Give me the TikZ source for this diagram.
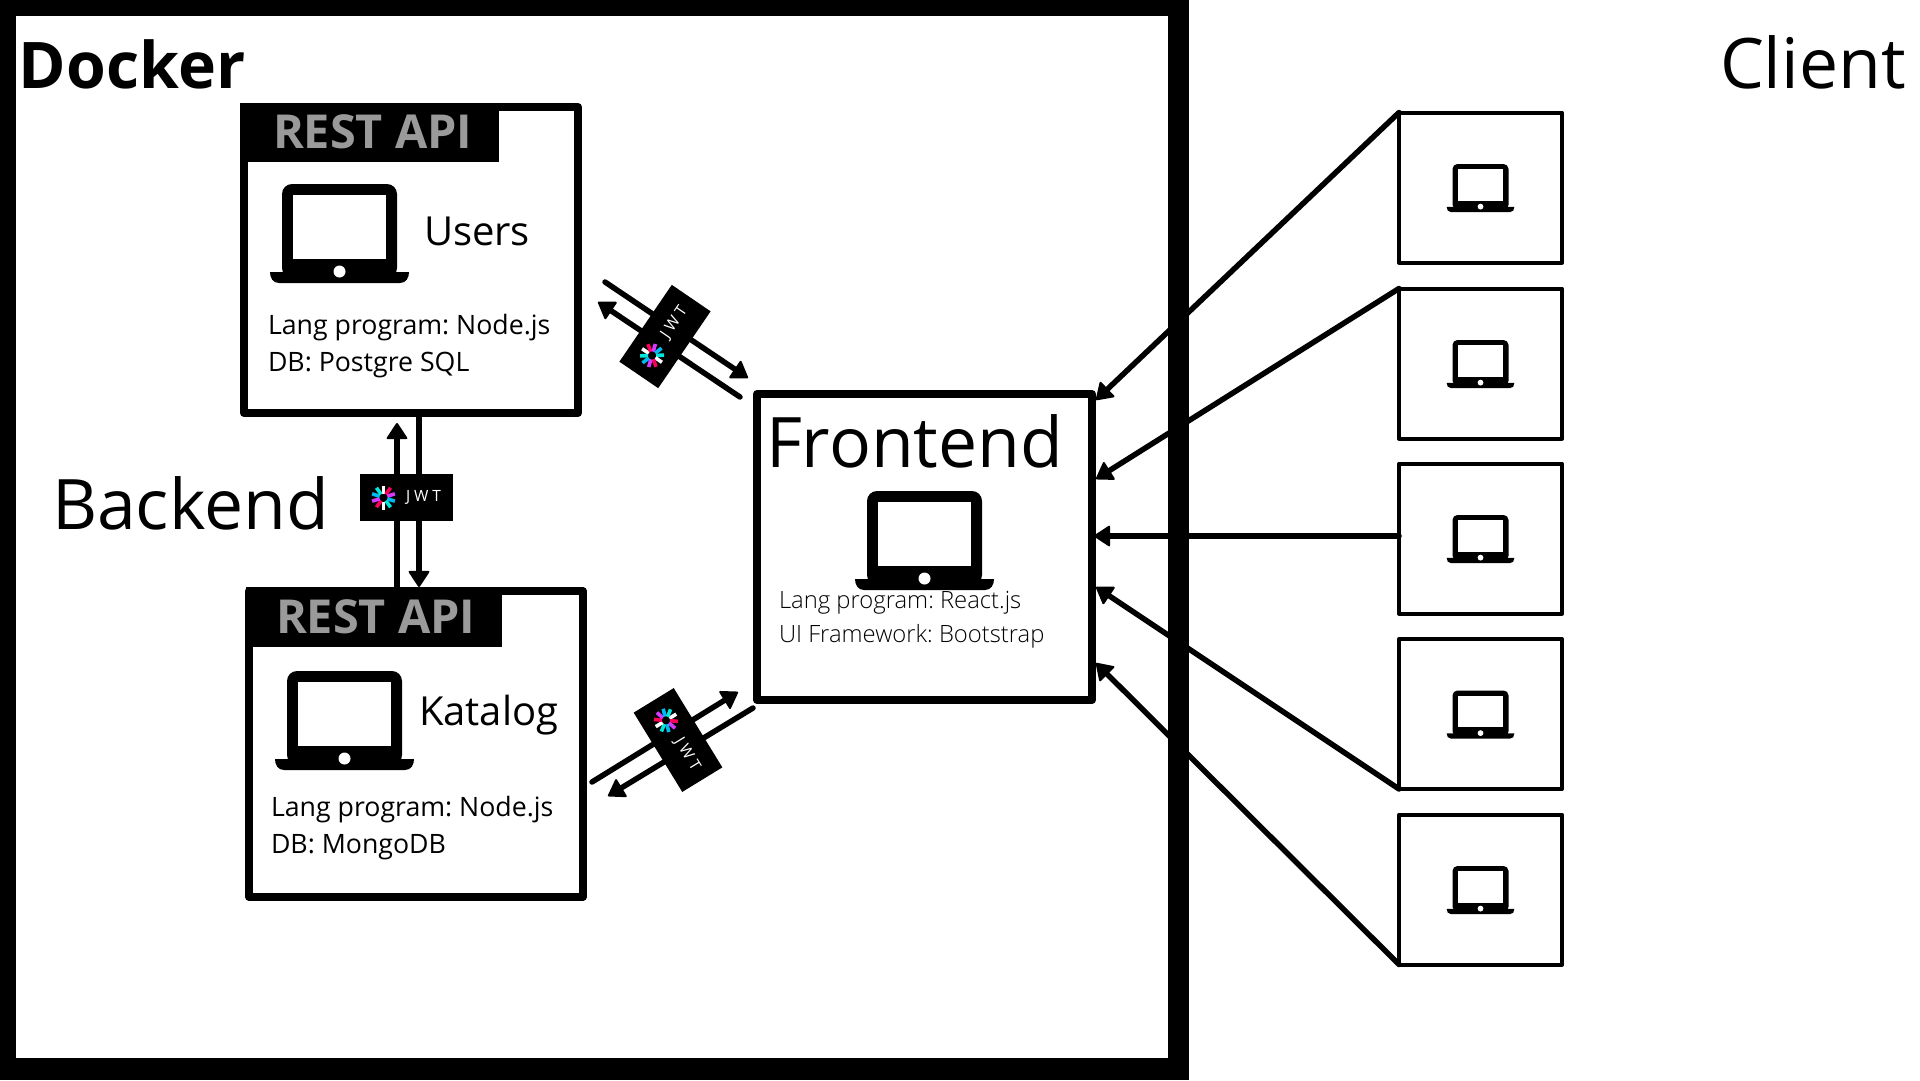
\documentclass[tikz,border=0pt]{standalone}
\usepackage{fontspec}
\usetikzlibrary{arrows.meta}
\setmainfont{Open Sans}
\newfontfamily\lightfont{Open Sans Light}
\newfontfamily\jwtfont[LetterSpace=25]{Open Sans}
\AtBeginDocument{\frenchspacing}
\definecolor{restgray}{HTML}{9A9A9A}
\definecolor{jwtpink}{HTML}{FB015B}
\definecolor{jwtpurple}{HTML}{D63AFF}
\definecolor{jwtblue}{HTML}{00B9F1}
\definecolor{jwtteal}{HTML}{00E6DC}
\tikzset{
  txt/.style={inner sep=0pt,outer sep=0pt,anchor=base west},
  hugetxt/.style={txt,font=\fontsize{69.7}{80}\selectfont},
  dockertxt/.style={txt,font=\fontsize{64.3}{72}\bfseries\selectfont},
  resttxt/.style={txt,text=restgray,font=\fontsize{46.8}{52}\bfseries\selectfont},
  nametxt/.style={txt,font=\fontsize{40}{46}\selectfont},
  infotxt/.style={txt,font=\fontsize{26.7}{32}\selectfont},
  lighttxt/.style={txt,font=\lightfont\fontsize{23.8}{28}\selectfont},
  servicebox/.style={draw=black,line width=8pt,line join=round,inner sep=0pt,outer sep=0pt,minimum width=334pt,minimum height=306pt},
  frontbox/.style={draw=black,line width=8pt,line join=round,inner sep=0pt,outer sep=0pt,minimum width=335pt,minimum height=306pt},
  clientbox/.style={draw=black,line width=4pt,line join=round,inner sep=0pt,outer sep=0pt,minimum width=163pt,minimum height=150pt},
  badge/.style={fill=black,inner sep=0pt,outer sep=0pt,minimum width=93pt,minimum height=47pt},
  plainline/.style={line width=5.5pt,line cap=round,draw=black},
  arrowline/.style={plainline,-{Triangle[length=17pt,width=22pt,round,line width=2pt]}},
}
\newcommand{\laptopicon}[3]{%
  \begin{scope}[shift={(#1,#2)},scale=#3]
    \fill[black,rounded corners=10pt*#3] (0,0) rectangle (115,94);
    \fill[black] (-12,88) -- (127,88) .. controls (127,94) and (124,99) .. (118,99) -- (-3,99) .. controls (-9,99) and (-12,94) .. (-12,88) -- cycle;
    \fill[white] (11,11) rectangle (104,75);
    \fill[white] (57.5,87.5) circle (6);
  \end{scope}}
\newcommand{\jwtbadge}[4]{%
  \node[badge,rotate=#4] (#1) at (#2,#3) {};
  \begin{scope}[shift={(#2,#3)},rotate=#4]
    \node[inner sep=0pt,text=white,rotate=#4,font=\jwtfont\fontsize{15.5}{18}\selectfont] (#1text) at (17,0) {JWT};
    \begin{scope}[shift={(-23,0)}]
      \foreach \ang/\col in {-90/white,-54/jwtpink,-18/jwtpurple,18/jwtblue,54/jwtteal,90/white,126/jwtpink,162/jwtpurple,198/jwtblue,234/jwtteal}
        \draw[\col,line width=3.6pt] (\ang:4) -- (\ang:12);
    \end{scope}
  \end{scope}}
\begin{document}
\begin{tikzpicture}[x=1pt,y=-1pt]
\useasboundingbox (0,0) rectangle (1920,1080);
\fill[white] (0,0) rectangle (1920,1080);
% Docker frame
\fill[black] (0,0) rectangle (1189,1080);
\fill[white] (16,16) rectangle (1168,1058);
\node[dockertxt] (dockerlabel) at (19,88) {Docker};
\node[hugetxt] (clientlabel) at (1720,88) {Client};
\node[hugetxt] (backendlabel) at (52,529) {Backend};

% Users service
\node[servicebox] (users) at (411,260) {};
\fill[black] (240,103) rectangle (499,162);
\node[resttxt] (rest1) at (273,148) {REST API};
\laptopicon{282}{184}{1}
\node[nametxt] (userslabel) at (424,245) {Users};
\node[infotxt] (users1) at (268,334) {Lang program: Node.js};
\node[infotxt] (users2) at (268,371) {DB: Postgre SQL};

% Katalog service
\node[servicebox] (katalog) at (416,744) {};
\fill[black] (245.5,587) rectangle (502,647);
\node[resttxt] (rest2) at (276,633) {REST API};
\laptopicon{287}{671}{1}
\node[nametxt] (kataloglabel) at (419,725) {Katalog};
\node[infotxt] (katalog1) at (271,816) {Lang program: Node.js};
\node[infotxt] (katalog2) at (271,853) {DB: MongoDB};

% Frontend
\node[frontbox] (frontend) at (924.5,547) {};
\node[hugetxt] (frontlabel) at (766,467) {Frontend};
\laptopicon{867}{491}{1}
\node[lighttxt] (front1) at (779,608) {Lang program: React.js};
\node[lighttxt] (front2) at (779,642) {UI Framework: Bootstrap};

% Clients
\foreach \i/\cy in {1/187.5,2/363.5,3/538.5,4/714,5/889.5}{
  \node[clientbox] (client\i) at (1480.5,\cy) {};
  \laptopicon{1452.5}{\cy-23.5}{0.487}
}

% connector ends
\coordinate (tip1) at (1096,400);
\coordinate (tip2) at (1096,479);
\coordinate (tip3) at (1094,536);
\coordinate (tip4) at (1096,587);
\coordinate (tip5) at (1096,663);
\coordinate (c3start) at (1399,536);
\draw[arrowline] (client1.north west) -- (tip1);
\draw[arrowline] (client2.north west) -- (tip2);
\draw[arrowline] (c3start) -- (tip3);
\draw[arrowline] (client4.south west) -- (tip4);
\draw[arrowline] (client5.south west) -- (tip5);

% service <-> service
\coordinate (upfoot) at (397,587);
\coordinate (uptip) at (397,423);
\coordinate (downfoot) at (419,417);
\coordinate (downtip) at (419,587);
\draw[arrowline,line cap=butt] (upfoot) -- (uptip);
\draw[arrowline,line cap=butt] (downfoot) -- (downtip);

% users <-> frontend
\coordinate (ufA) at (605,282);
\coordinate (ufAtip) at (748,378);
\coordinate (ufB) at (740,397);
\coordinate (ufBtip) at (598,302);
\draw[arrowline] (ufA) -- (ufAtip);
\draw[arrowline] (ufB) -- (ufBtip);

% katalog <-> frontend
\coordinate (kfA) at (592,782);
\coordinate (kfAtip) at (738,692);
\coordinate (kfB) at (753,708);
\coordinate (kfBtip) at (608,796);
\draw[arrowline] (kfA) -- (kfAtip);
\draw[arrowline] (kfB) -- (kfBtip);

% JWT badges
\jwtbadge{jwtmid}{406.5}{497.5}{0}
\jwtbadge{jwtup}{665}{336.5}{55.7}
\jwtbadge{jwtlow}{678}{740}{-58.5}
\end{tikzpicture}
\end{document}
